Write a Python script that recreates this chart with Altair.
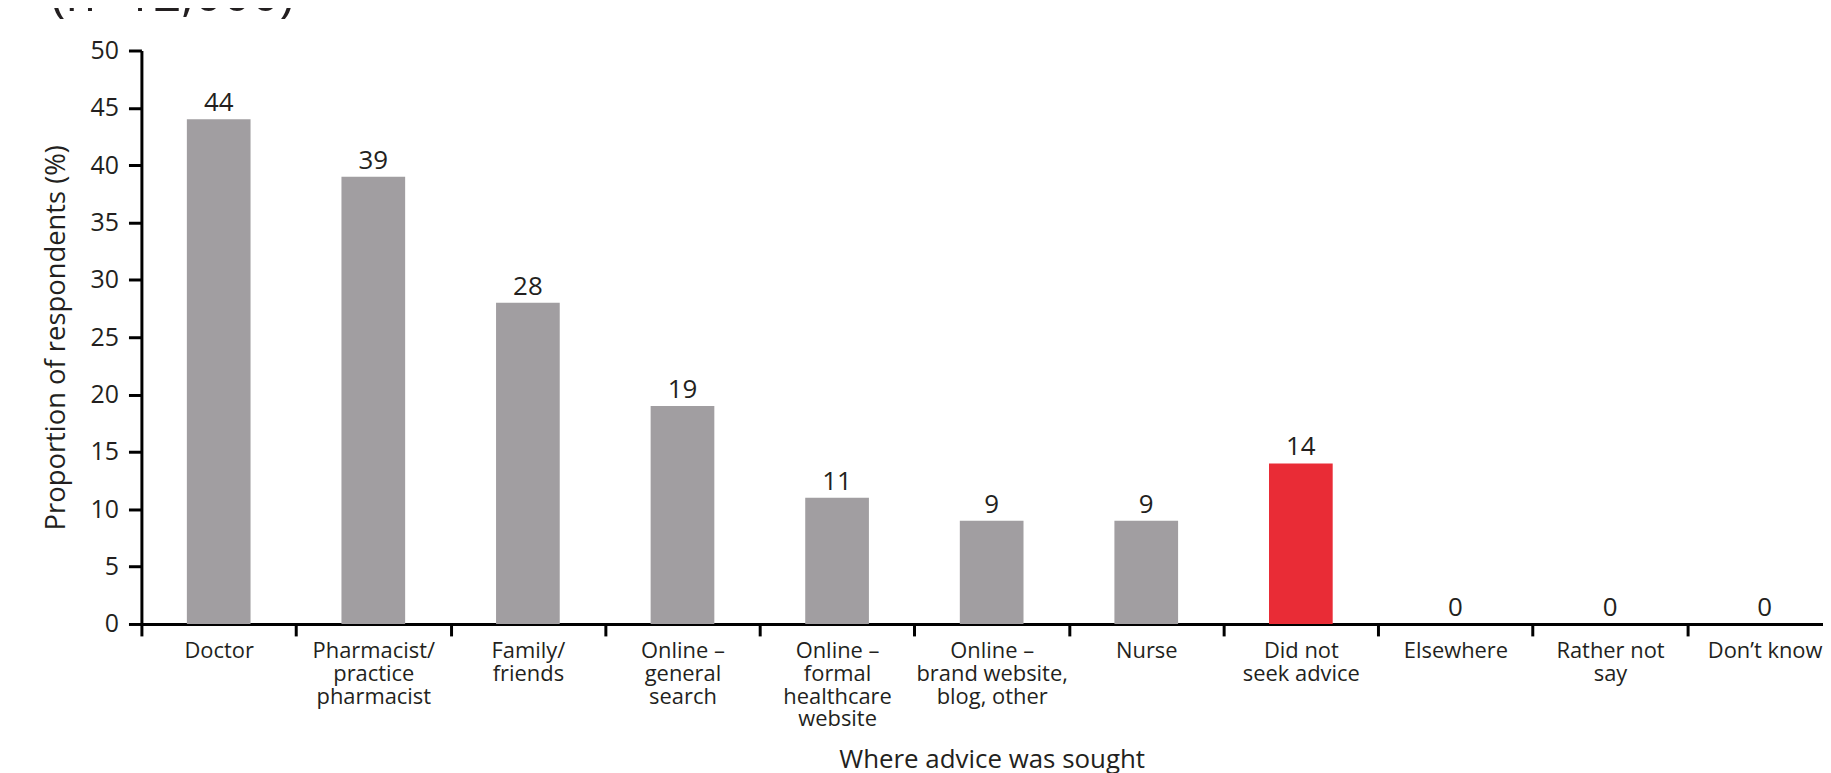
import altair as alt
import pandas as pd

categories = [
    "Doctor",
    "Pharmacist/\npractice\npharmacist",
    "Family/\nfriends",
    "Online –\ngeneral\nsearch",
    "Online –\nformal\nhealthcare\nwebsite",
    "Online –\nbrand website,\nblog, other",
    "Nurse",
    "Did not\nseek advice",
    "Elsewhere",
    "Rather not\nsay",
    "Don’t know",
]
values = [44, 39, 28, 19, 11, 9, 9, 14, 0, 0, 0]
highlight = [False, False, False, False, False, False, False, True, False, False, False]

title_text = ["(n=12,000)"]

df = pd.DataFrame({"cat": categories, "value": values, "hl": highlight})
tdf = pd.DataFrame({"t": title_text})

FONT = "Open Sans"
TXT = "#231f20"

x_enc = alt.X(
    "cat:N",
    sort=categories,
    scale=alt.Scale(paddingInner=0, paddingOuter=0, range=[0, 1708]),
    axis=alt.Axis(
        title="Where advice was sought",
        titleFont=FONT,
        titleFontSize=26,
        titleFontWeight="normal",
        titleColor=TXT,
        titleBaseline="alphabetic",
        titleY=144,
        labelExpr="split(datum.label, '\\n')",
        labelFont=FONT,
        labelFontSize=22,
        labelColor=TXT,
        labelLineHeight=22.8,
        labelBaseline="top",
        labelPadding=5,
        labelAngle=0,
        labelLimit=300,
        tickBand="extent",
        tickSize=12,
        tickWidth=3,
        tickColor="black",
        domainColor="black",
        domainWidth=3,
        grid=False,
    ),
)

y_enc = alt.Y(
    "value:Q",
    scale=alt.Scale(domain=[0, 50], nice=False),
    axis=alt.Axis(
        title="Proportion of respondents (%)",
        titleFont=FONT,
        titleFontSize=27.5,
        titleFontWeight="normal",
        titleColor=TXT,
        titlePadding=20,
        values=list(range(0, 51, 5)),
        labelFont=FONT,
        labelFontSize=25,
        labelColor=TXT,
        labelPadding=10,
        tickSize=13,
        tickWidth=3,
        tickColor="black",
        domainColor="black",
        domainWidth=3,
        grid=False,
    ),
)

bars = alt.Chart(df).mark_bar(width=alt.RelativeBandSize(0.412)).encode(
    x=x_enc,
    y=y_enc,
    color=alt.condition(alt.datum.hl, alt.value("#e92c36"), alt.value("#a19ea1")),
)

labels = alt.Chart(df).mark_text(
    font=FONT, fontSize=26, color=TXT, baseline="alphabetic", dy=-8
).encode(
    x=alt.X("cat:N", sort=categories),
    y=alt.Y("value:Q"),
    text=alt.Text("value:Q"),
)

title = alt.Chart(tdf).mark_text(
    font=FONT, fontSize=50, color=TXT, align="left", baseline="alphabetic"
).encode(
    x=alt.value(-91),
    y=alt.value(-40),
    text="t:N",
)

chart = (
    alt.layer(bars, labels, title)
    .properties(
        width=1689,
        height=576,
        background="white",
        autosize=alt.AutoSizeParams(type="none"),
        padding={"left": 134, "top": 41, "right": 0, "bottom": 148},
    )
    .configure_view(stroke="transparent", strokeWidth=0)
)

chart.save("out.html", embed_options={"renderer": "svg", "actions": False})
